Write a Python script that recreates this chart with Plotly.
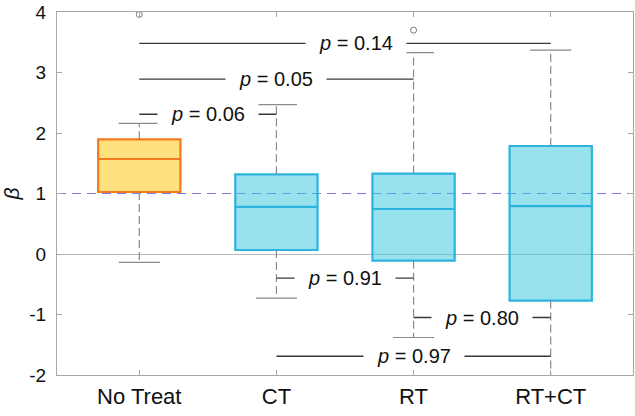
"""Box plot of beta by treatment group with pairwise p-values."""

import plotly.graph_objects as go


CATEGORIES = ['No Treat', 'CT', 'RT', 'RT+CT']
Q1 = [1.025, 0.066, -0.11, -0.77]
MEDIAN = [1.57, 0.78, 0.744, 0.79]
Q3 = [1.896, 1.317, 1.33, 1.785]
WHISKER_LOW = [-0.14, -0.73, -1.38, -2.2]
WHISKER_HIGH = [2.16, 2.47, 3.33, 3.37]

OUTLIER_GROUP = ['No Treat', 'RT']
OUTLIER_VALUE = [3.96, 3.70]

PAIR_FROM = ['No Treat', 'No Treat', 'No Treat', 'CT', 'RT', 'CT']
PAIR_TO = ['CT', 'RT', 'RT+CT', 'RT', 'RT+CT', 'RT+CT']
P_VALUES = ['0.06', '0.05', '0.14', '0.91', '0.80', '0.97']
P_LEVELS = [2.31, 2.89, 3.48, -0.40, -1.05, -1.69]

Y_TICKS = [-2, -1, 0, 1, 2, 3, 4]
Y_TICK_TEXT = ['-2', '-1', '0', '1', '2', '3', '4']

REF_LEVEL = 1

FILL_COLORS = ['rgba(255,193,0,0.5)'] + ['rgba(47,197,217,0.5)'] * 3
EDGE_COLORS = ['#F47A1F'] + ['#2CB3E0'] * 3
WHISKER_COLOR = '#8a8a8a'
FRAME_COLOR = '#a8a8a8'
FONT = 'Liberation Sans, Arial, sans-serif'
BOX_WIDTH = 0.6
CAP_HALF = 0.15

pos = {name: i + 1 for i, name in enumerate(CATEGORIES)}

fig = go.Figure()

# reference line at beta = 1 (under the semi-transparent boxes)
fig.add_hline(y = REF_LEVEL, line = dict(color = '#7a7aee', width = 1, dash = '9px,6px'), layer = 'below')

# dashed whiskers and solid caps
wx, wy, cx, cy = [], [], [], []
for name, lo, q1, q3, hi in zip(CATEGORIES, WHISKER_LOW, Q1, Q3, WHISKER_HIGH):
    x = pos[name]
    wx += [x, x, None, x, x, None]
    wy += [q3, hi, None, q1, lo, None]
    cx += [x - CAP_HALF, x + CAP_HALF, None, x - CAP_HALF, x + CAP_HALF, None]
    cy += [hi, hi, None, lo, lo, None]

fig.add_trace(go.Scatter(x = wx, y = wy, mode = 'lines', hoverinfo = 'skip',
                         line = dict(color = WHISKER_COLOR, width = 1.2, dash = '8px,4px')))
fig.add_trace(go.Scatter(x = cx, y = cy, mode = 'lines', hoverinfo = 'skip',
                         line = dict(color = WHISKER_COLOR, width = 1.2)))

for i, name in enumerate(CATEGORIES):
    fig.add_trace(go.Box(
        x = [pos[name]],
        q1 = [Q1[i]], median = [MEDIAN[i]], q3 = [Q3[i]],
        lowerfence = [Q1[i]], upperfence = [Q3[i]],
        width = BOX_WIDTH,
        whiskerwidth = 0,
        fillcolor = FILL_COLORS[i],
        line = dict(color = EDGE_COLORS[i], width = 2.2),
        boxpoints = False,
        name = name,
    ))

fig.add_trace(go.Scatter(
    x = [pos[g] for g in OUTLIER_GROUP], y = OUTLIER_VALUE, mode = 'markers',
    marker = dict(symbol = 'circle-open', size = 6, color = '#777777', line = dict(width = 1)),
))

# significance brackets
px, py = [], []
for a, b, lvl in zip(PAIR_FROM, PAIR_TO, P_LEVELS):
    px += [pos[a], pos[b], None]
    py += [lvl, lvl, None]
fig.add_trace(go.Scatter(x = px, y = py, mode = 'lines', hoverinfo = 'skip',
                         line = dict(color = '#3a3a3a', width = 1.3)))

for a, b, lvl, p in zip(PAIR_FROM, PAIR_TO, P_LEVELS, P_VALUES):
    mid = (pos[a] + pos[b]) / 2
    if p == '0.14':
        mid += 0.08
    fig.add_annotation(
        x = mid, y = lvl, text = f'<i>p</i> = {p}', showarrow = False,
        bgcolor = 'white', width = 100, borderpad = 0,
        font = dict(family = FONT, size = 20, color = '#111111'),
    )

fig.update_layout(
    width = 635, height = 416,
    margin = dict(l = 57, r = 2, t = 12, b = 41),
    paper_bgcolor = 'white', plot_bgcolor = 'white',
    showlegend = False, boxmode = 'overlay',
    font = dict(family = FONT, color = '#111111'),
    xaxis = dict(
        range = [0.4, 4.6], tickvals = [pos[c] for c in CATEGORIES], ticktext = CATEGORIES,
        showgrid = False, zeroline = False,
        showline = True, mirror = 'ticks', linecolor = FRAME_COLOR, linewidth = 1,
        ticks = 'inside', ticklen = 5, tickcolor = FRAME_COLOR,
        tickfont = dict(size = 22), ticklabelstandoff = 2,
    ),
    yaxis = dict(
        range = [-2, 4], tickvals = Y_TICKS, ticktext = Y_TICK_TEXT,
        showgrid = False, zeroline = True, zerolinecolor = '#b8b8b8', zerolinewidth = 1,
        showline = True, mirror = 'ticks', linecolor = FRAME_COLOR, linewidth = 1,
        ticks = 'inside', ticklen = 5, tickcolor = FRAME_COLOR,
        tickfont = dict(size = 19), ticklabelstandoff = 6,
        title = dict(text = '<i>β</i>', font = dict(size = 21), standoff = 6),
    ),
)

# drop the default page margin so the figure sits at the window's corner
fig.write_html('out.html', config = {'displayModeBar': False},
               post_script = "document.body.style.margin = '0px';")
